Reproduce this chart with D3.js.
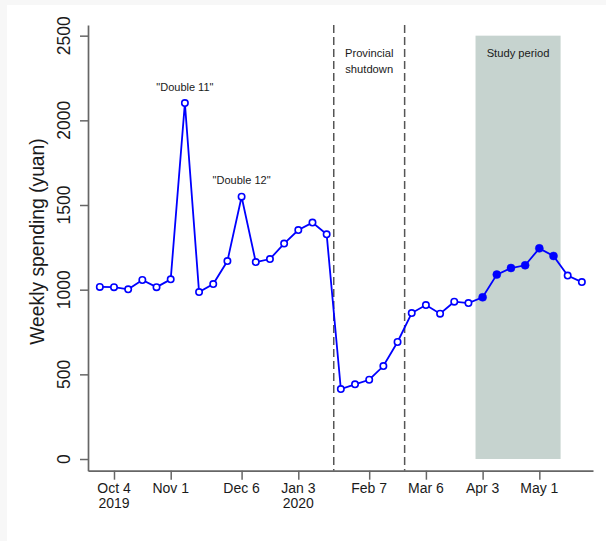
<!DOCTYPE html>
<html>
<head>
<meta charset="utf-8">
<script src="https://cdn.jsdelivr.net/npm/d3@7"></script>
<style>
  html, body { margin: 0; padding: 0; background: #f7f7f7; }
  svg { display: block; }
  text { font-family: "Liberation Sans", Arial, Helvetica, sans-serif; fill: #1a1a1a; }
</style>
</head>
<body>
<svg id="chart" width="606" height="541"></svg>
<script>
// ---- data ----
const weeks = ["2019-09-27","2019-10-04","2019-10-11","2019-10-18","2019-10-25","2019-11-01","2019-11-08","2019-11-15","2019-11-22","2019-11-29","2019-12-06","2019-12-13","2019-12-20","2019-12-27","2020-01-03","2020-01-10","2020-01-17","2020-01-24","2020-01-31","2020-02-07","2020-02-14","2020-02-21","2020-02-28","2020-03-06","2020-03-13","2020-03-20","2020-03-27","2020-04-03","2020-04-10","2020-04-17","2020-04-24","2020-05-01","2020-05-08","2020-05-15","2020-05-22"];
const spending = [1016,1015,1002,1057,1015,1061,2102,986,1033,1169,1549,1163,1181,1272,1352,1396,1327,413,441,468,549,691,862,909,858,929,921,955,1089,1128,1144,1244,1199,1083,1045];
const xTickDates = ["2019-10-04","2019-11-01","2019-12-06","2020-01-03","2020-02-07","2020-03-06","2020-04-03","2020-05-01"];
const xTickLabels = [["Oct 4","2019"],["Nov 1"],["Dec 6"],["Jan 3","2020"],["Feb 7"],["Mar 6"],["Apr 3"],["May 1"]];
const yTicks = [0,500,1000,1500,2000,2500];
const shutdownBounds = ["2020-01-20T12:00Z","2020-02-24T12:00Z"];
const studyPeriod = ["2020-03-30T12:00Z","2020-05-11T12:00Z"];
const xDomain = ["2019-09-21T04:00Z","2020-05-27T12:00Z"];
const yDomain = [-69, 2563];
const annotations = [
  {date:"2019-11-08", value:2102, lines:["\"Double 11\""]},
  {date:"2019-12-06", value:1549, lines:["\"Double 12\""]}
];

const parse = s => new Date(s.length === 10 ? s + "T00:00Z" : s);
const data = weeks.map((w,i) => ({date: parse(w), value: spending[i]}));

const svg = d3.select("#chart");
svg.append("rect").attr("x",7).attr("y",5).attr("width",599).attr("height",536).attr("fill","#ffffff");

const x = d3.scaleUtc().domain(xDomain.map(parse)).range([88, 593]);
const y = d3.scaleLinear().domain(yDomain).range([470.7, 25]);

// study period shading
svg.append("rect")
  .attr("x", x(parse(studyPeriod[0])))
  .attr("width", x(parse(studyPeriod[1])) - x(parse(studyPeriod[0])))
  .attr("y", y(2500))
  .attr("height", y(0) - y(2500))
  .attr("fill", "#c6d3cf");

svg.append("text").attr("x", (x(parse(studyPeriod[0])) + x(parse(studyPeriod[1])))/2)
  .attr("y", 56.5).attr("text-anchor","middle").attr("font-size","11.2px").text("Study period");

// shutdown dashed lines
shutdownBounds.forEach(s => {
  svg.append("line")
    .attr("x1", x(parse(s))).attr("x2", x(parse(s)))
    .attr("y1", y.range()[1]).attr("y2", y.range()[0])
    .attr("stroke", "#555").attr("stroke-width", 1.5).attr("stroke-dasharray", "8,4");
});
const shMid = (x(parse(shutdownBounds[0])) + x(parse(shutdownBounds[1])))/2;
svg.append("text").attr("x", shMid).attr("y", 56.5).attr("text-anchor","middle").attr("font-size","11.2px").text("Provincial");
svg.append("text").attr("x", shMid).attr("y", 73.3).attr("text-anchor","middle").attr("font-size","11.2px").text("shutdown");

// axes
const xAxis = svg.append("g").attr("transform", `translate(0,${y.range()[0]})`)
  .call(d3.axisBottom(x).tickValues(xTickDates.map(parse)).tickSizeOuter(0).tickSizeInner(9).tickFormat(() => ""));
xAxis.select(".domain").attr("stroke","#666").attr("stroke-width",1.7);
xAxis.selectAll(".tick line").attr("stroke","#666").attr("stroke-width",1.5);
xTickDates.forEach((d,i) => {
  const t = svg.append("text").attr("x", x(parse(d))).attr("text-anchor","middle").attr("font-size","14px");
  xTickLabels[i].forEach((l,j) => {
    t.append("tspan").attr("x", x(parse(d))).attr("y", 493.3 + j*15).text(l);
  });
});

const yAxis = svg.append("g").attr("transform", `translate(${x.range()[0]},0)`)
  .call(d3.axisLeft(y).tickValues(yTicks).tickSizeOuter(0).tickSizeInner(8).tickFormat(() => ""));
yAxis.select(".domain").attr("stroke","#666").attr("stroke-width",1.7);
yAxis.selectAll(".tick line").attr("stroke","#666").attr("stroke-width",1.5);
yTicks.forEach(v => {
  svg.append("text").attr("transform", `translate(70,${y(v)}) rotate(-90)`)
    .attr("text-anchor","middle").attr("font-size","17.5px").text(v);
});

svg.append("text").attr("transform", `translate(43.5,241.5) rotate(-90)`)
  .attr("text-anchor","middle").attr("font-size","19.3px").text("Weekly spending (yuan)");

// line
svg.append("path").datum(data)
  .attr("fill","none").attr("stroke","#0000ff").attr("stroke-width",1.8)
  .attr("d", d3.line().x(d => x(d.date)).y(d => y(d.value)));

const s0 = parse(studyPeriod[0]), s1 = parse(studyPeriod[1]);
svg.selectAll("circle.pt").data(data).join("circle")
  .attr("class","pt")
  .attr("cx", d => x(d.date)).attr("cy", d => y(d.value))
  .attr("r", d => (d.date > s0 && d.date < s1) ? 4 : 3.2)
  .attr("fill", d => (d.date > s0 && d.date < s1) ? "#0000ff" : "#ffffff")
  .attr("stroke","#0000ff").attr("stroke-width", d => (d.date > s0 && d.date < s1) ? 0.5 : 1.6);

// annotations
annotations.forEach(a => {
  svg.append("text").attr("x", x(parse(a.date))).attr("y", y(a.value) - 12.5)
    .attr("text-anchor","middle").attr("font-size","11px").text(a.lines[0]);
});
</script>
</body>
</html>
